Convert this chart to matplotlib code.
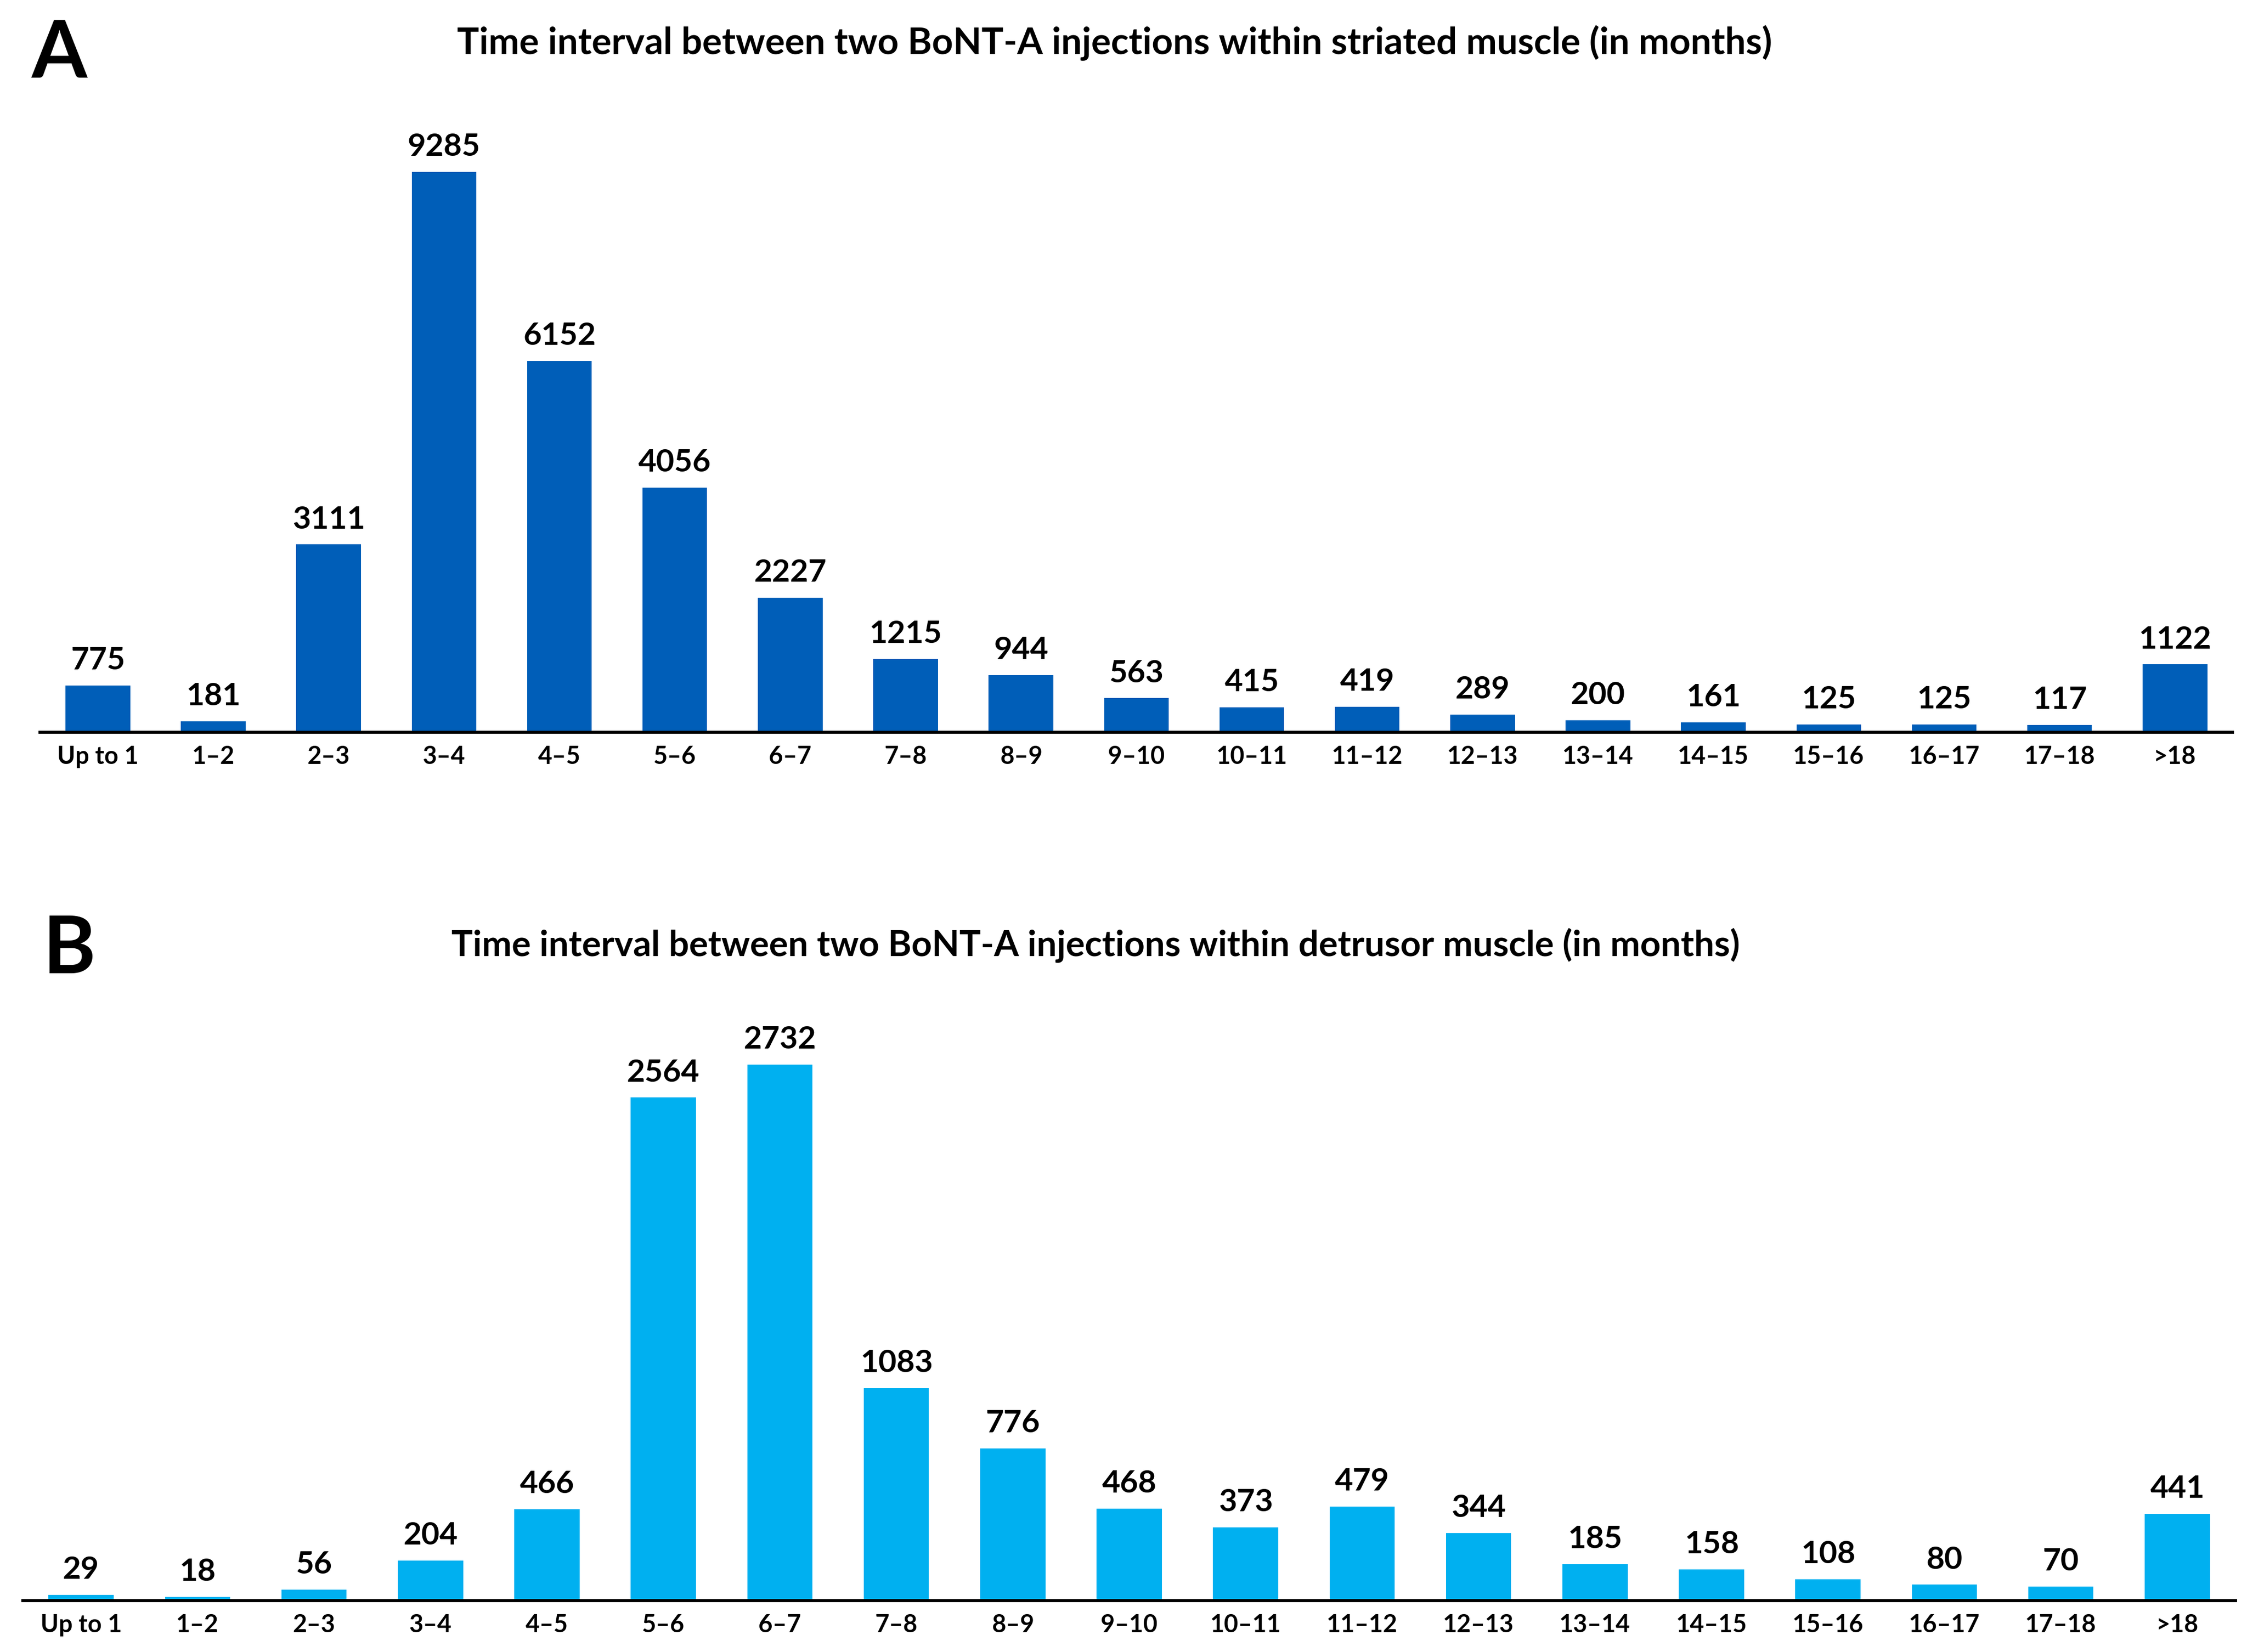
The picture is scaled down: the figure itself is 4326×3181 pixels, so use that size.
import matplotlib
matplotlib.use("Agg")
import matplotlib.pyplot as plt

categories = ["Up to 1", "1\u20132", "2\u20133", "3\u20134", "4\u20135", "5\u20136", "6\u20137",
              "7\u20138", "8\u20139", "9\u201310", "10\u201311", "11\u201312", "12\u201313",
              "13\u201314", "14\u201315", "15\u201316", "16\u201317", "17\u201318", ">18"]
striated = [775, 181, 3111, 9285, 6152, 4056, 2227, 1215, 944, 563, 415, 419, 289,
            200, 161, 125, 125, 117, 1122]
detrusor = [29, 18, 56, 204, 466, 2564, 2732, 1083, 776, 468, 373, 479, 344,
            185, 158, 108, 80, 70, 441]
title_a = "Time interval between two BoNT-A injections within striated muscle (in months)"
title_b = "Time interval between two BoNT-A injections within detrusor muscle (in months)"

plt.rcParams['font.family'] = ['Lato', 'DejaVu Sans']
plt.rcParams['font.weight'] = 'bold'

fig = plt.figure(figsize=(4326/300, 3181/300), dpi=300)

def panel(rect, values, color, ymax, title, title_xy, title_size, letter, letter_xy):
    ax = fig.add_axes(rect)
    x = list(range(len(categories)))
    ax.bar(x, values, width=0.56, color=color, zorder=2)
    ax.set_xlim(-0.5, len(categories) - 0.5)
    ax.set_ylim(0, ymax)
    for s in ['top', 'right', 'left']:
        ax.spines[s].set_visible(False)
    ax.spines['bottom'].set_linewidth(1.4)
    ax.spines['bottom'].set_color('black')
    ax.set_yticks([])
    ax.set_xticks(x)
    ax.set_xticklabels(categories, fontsize=11.3, fontweight='bold')
    ax.tick_params(axis='x', length=0, pad=6)
    for xi, v in zip(x, values):
        ax.annotate(str(v), (xi, v), xytext=(0, 5), textcoords='offset points',
                    ha='center', va='bottom', fontsize=14.5, fontweight='bold')
    fig.text(title_xy[0], title_xy[1], title, ha='center', va='center',
             fontsize=title_size, fontweight='bold')
    fig.text(letter_xy[0], letter_xy[1], letter, ha='left', va='baseline',
             fontsize=37, fontweight='bold')
    return ax

panel([0.01786, 0.5568, 0.99362 - 0.01786, 0.9220 - 0.5568], striated, '#005EB8', 10000,
      title_a, (0.496, 0.974), 17.0, 'A', (0.014, 0.953))
panel([0.0102, 0.03122, 0.9949 - 0.0102, 0.3874 - 0.03122], detrusor, '#00B0F0', 3000,
      title_b, (0.4876, 0.4276), 16.5, 'B', (0.019, 0.411))

fig.savefig("out.png", dpi=300, facecolor='white')
